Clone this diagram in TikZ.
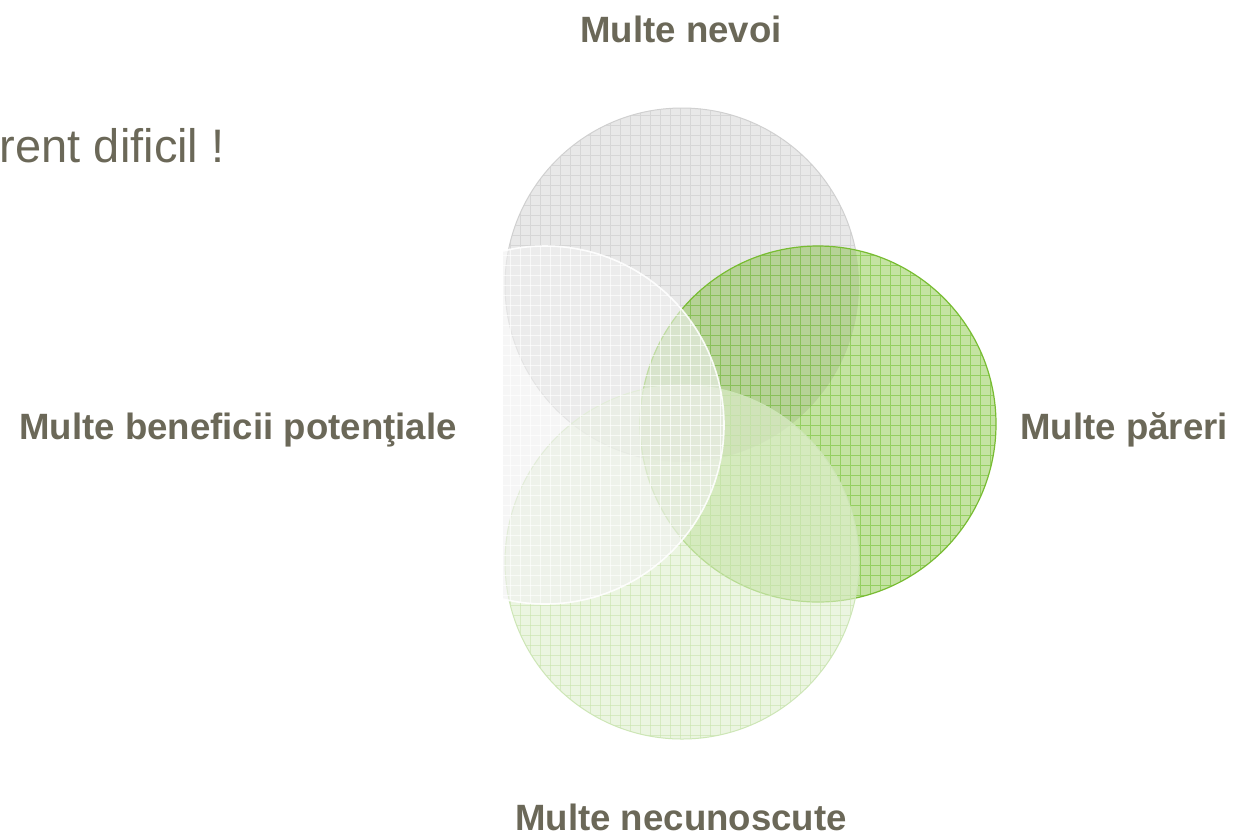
\documentclass[tikz,border=0pt]{standalone}
\usepackage{fontspec}
\setmainfont{Liberation Sans}
\definecolor{txt}{RGB}{107,104,88}
\definecolor{grayfill}{RGB}{232,232,232}
\definecolor{grayline}{RGB}{214,214,214}
\definecolor{grayedge}{RGB}{208,208,208}
\definecolor{greenfill}{RGB}{196,227,162}
\definecolor{greenline}{RGB}{148,207,96}
\definecolor{greenedge}{RGB}{120,188,50}
\definecolor{lgfill}{RGB}{224,239,208}
\definecolor{lgline}{RGB}{200,228,172}
\definecolor{lgedge}{RGB}{205,230,182}
\definecolor{wfill}{RGB}{240,240,240}
\tikzset{
  lbl/.style={font=\bfseries\fontsize{18.3pt}{20pt}\selectfont, text=txt, inner sep=0pt},
  ttl/.style={font=\fontsize{23.5pt}{28pt}\selectfont, text=txt, inner sep=0pt},
  gridlines/.style={line width=0.5pt}
}
\newcommand{\gridfill}[2]{%
  \foreach \gx in {500,510,...,1010} {\draw[gridlines,#1,#2] (\gx,95) -- (\gx,750);}
  \foreach \gy in {95,105,...,755} {\draw[gridlines,#1,#2] (495,\gy) -- (1010,\gy);}
}
\begin{document}
\begin{tikzpicture}[x=0.5pt,y=-0.5pt]
\useasboundingbox[fill=white] (0,0) rectangle (1235,837);

% top circle (gray)
\begin{scope}
  \clip (682,285) circle[radius=177];
  \fill[grayfill] (682,285) circle[radius=177];
  \gridfill{grayline}{opacity=1}
\end{scope}
\draw[grayedge, line width=0.5pt] (682,285) circle[radius=177];

% right circle (green)
\begin{scope}
  \clip (818,424) circle[radius=178];
  \fill[greenfill] (818,424) circle[radius=178];
  \gridfill{greenline}{opacity=1}
  \begin{scope}
    \clip (682,285) circle[radius=177];
    \fill[black, opacity=0.07] (818,424) circle[radius=178];
  \end{scope}
\end{scope}
\draw[greenedge, line width=0.6pt] (818,424) circle[radius=178];

% bottom circle (light green)
\begin{scope}
  \clip (503,0) rectangle (1235,837);
  \clip (682,562) circle[radius=177];
  \fill[lgfill, opacity=0.62] (682,562) circle[radius=177];
  \gridfill{lgline}{opacity=0.6}
\end{scope}
\begin{scope}
  \clip (503,0) rectangle (1235,837);
  \draw[lgedge, line width=0.5pt] (682,562) circle[radius=177];
\end{scope}

% left circle (white)
\begin{scope}
  \clip (503,0) rectangle (1235,837);
  \begin{scope}
    \clip (545,425) circle[radius=179];
    \fill[wfill, opacity=0.6] (545,425) circle[radius=179];
    \gridfill{white}{opacity=0.75}
  \end{scope}
  \draw[white, line width=0.8pt, opacity=0.9] (545,425) circle[radius=179];
\end{scope}

% texts
\node[ttl, anchor=base east] (title) at (225,162) {rent dificil !};
\node[lbl, anchor=base] (nevoi) at (681,42) {Multe nevoi};
\node[lbl, anchor=base east] (benef) at (457,439) {Multe beneficii potenţiale};
\node[lbl, anchor=base west] (pareri) at (1020,439) {Multe păreri};
\node[lbl, anchor=base] (necun) at (681,830) {Multe necunoscute};
\end{tikzpicture}
\end{document}
